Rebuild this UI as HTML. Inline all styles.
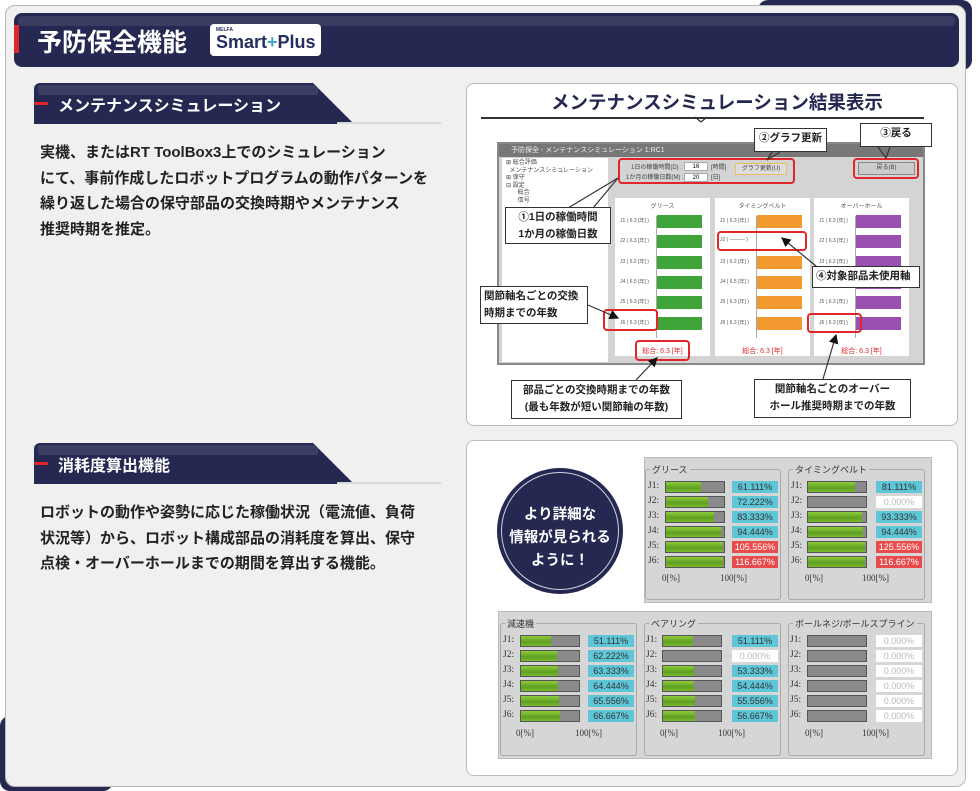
<!DOCTYPE html>
<html><head><meta charset="utf-8">
<style>
*{margin:0;padding:0;box-sizing:border-box}
body{width:980px;height:791px;background:#fff;position:relative;overflow:hidden;font-family:"Liberation Sans","Noto Sans CJK JP",sans-serif}
.a{position:absolute}
.nav{background:#252850}
.sh{position:absolute;left:34px;width:320px;height:41px;background:#252850;clip-path:polygon(0 0,279px 0,320px 41px,0 41px);border-radius:6px 0 0 0}
.sh .hl{position:absolute;left:4px;top:2px;width:280px;height:10px;background:#3a3d62}
.sh .rd{position:absolute;left:0;top:19px;width:14px;height:3px;background:#e0262b}
.sh .t{position:absolute;left:24px;top:9px;color:#fff;font-size:16px;font-weight:bold;white-space:nowrap}
.ul{position:absolute;left:337px;width:104px;height:2px;background:#d8d8d8}
.p{position:absolute;left:40px;font-size:15px;font-weight:bold;line-height:25.5px;color:#222;white-space:nowrap}
.box{position:absolute;background:#fff;border:1.5px solid #bbb;border-radius:8px}
.co{position:absolute;background:#fff;border:1.5px solid #333;font-size:10.5px;font-weight:bold;color:#222;line-height:17px;padding:1px 3px;white-space:nowrap;overflow:hidden}
.rb{position:absolute;border:2px solid #e0262b;border-radius:4px}
.ch{position:absolute;background:#fff;top:198px;width:95px;height:158px}
.ch .tt{position:absolute;top:3px;width:100%;text-align:center;font-size:6px;color:#555}
.ch .b{position:absolute;left:42px;width:45px;height:13px}
.ch .lb{position:absolute;left:5px;font-size:5px;color:#555;white-space:nowrap}
.ch .ax{position:absolute;left:41px;top:18px;width:1px;height:122px;background:#aaa}
.ch .tot{position:absolute;top:148px;width:100%;text-align:center;font-size:7px;color:#e0262b}
.gb{position:absolute;background:#e4e4e4;border:1px solid #bbb}
.sp{position:absolute;border:1px solid #aaa;border-radius:3px}
.sp .tl{position:absolute;top:-7px;left:4px;background:#d6d6d6;font-size:9px;color:#333;padding:0 2px;white-space:nowrap}
.j{position:absolute;font-size:9.5px;color:#333;font-family:"Liberation Serif",serif}
.bar{position:absolute;width:60px;height:12px;background:#8a8a8a;border:1px solid #555}
.bar i{position:absolute;left:0;top:0;bottom:0;background:linear-gradient(#8fcc3a,#5e9e23 60%,#7cbc2c)}
.v{position:absolute;width:46px;height:12px;font-size:9px;text-align:center;line-height:12px;color:#333}
.cy{background:#5ec6d6}.rdv{background:#e84b4b;color:#fff}.wt{background:#fff;color:#bbb}
.ax2{position:absolute;font-size:9px;color:#333;font-family:"Liberation Serif",serif}
</style></head><body>
<div class="a nav" style="left:758px;top:0;width:214px;height:70px;border-radius:10px"></div>
<div class="a nav" style="left:0;top:716px;width:113px;height:75px;border-radius:10px"></div>
<div class="a" style="left:5px;top:5px;width:961px;height:782px;background:#f0f0f0;border:1.5px solid #b8b8b8;border-radius:10px"></div>
<div class="a nav" style="left:14px;top:13px;width:945px;height:54px;border-radius:8px;overflow:hidden">
 <div class="a" style="left:4px;top:3px;width:937px;height:10px;background:#3a3d62;border-radius:4px"></div>
</div>
<div class="a" style="left:14px;top:25px;width:5px;height:28px;background:#e0262b"></div>
<div class="a" style="left:37px;top:23px;color:#fff;font-size:25px;font-weight:bold;white-space:nowrap">予防保全機能</div>
<div class="a" style="left:210px;top:24px;width:111px;height:32px;background:#fff;border-radius:4px">
 <div class="a" style="left:6px;top:3px;font-size:5px;color:#253060;font-weight:bold">MELFA</div>
 <div class="a" style="left:6px;top:8px;font-size:18px;color:#253060;font-weight:bold;white-space:nowrap">Smart<span style="color:#3aa8c8">+</span>Plus</div>
</div>
<div class="sh" style="top:83px"><div class="hl"></div><div class="rd"></div><div class="t">メンテナンスシミュレーション</div></div>
<div class="ul" style="top:122px"></div>
<div class="p" style="top:140px">実機、またはRT ToolBox3上でのシミュレーション<br>にて、事前作成したロボットプログラムの動作パターンを<br>繰り返した場合の保守部品の交換時期やメンテナンス<br>推奨時期を推定。</div>
<div class="sh" style="top:443px"><div class="hl"></div><div class="rd"></div><div class="t">消耗度算出機能</div></div>
<div class="ul" style="top:482px"></div>
<div class="p" style="top:500px">ロボットの動作や姿勢に応じた稼働状況（電流値、負荷<br>状況等）から、ロボット構成部品の消耗度を算出、保守<br>点検・オーバーホールまでの期間を算出する機能。</div>

<div class="box" style="left:466px;top:83px;width:492px;height:343px"></div>
<div class="a" style="left:551px;top:89px;font-size:18.5px;font-weight:bold;color:#252850;white-space:nowrap">メンテナンスシミュレーション結果表示</div>
<div class="a" style="left:481px;top:117px;width:443px;height:1.5px;background:#333"></div>
<div class="a" style="left:497px;top:142px;width:428px;height:223px;background:#d4d4d4;border:2px solid #888"></div>
<div class="a" style="left:499px;top:144px;width:424px;height:13px;background:#777;color:#eee;font-size:7px;line-height:13px;padding-left:12px;white-space:nowrap">予防保全 - メンテナンスシミュレーション 1:RC1</div>
<div class="a" style="left:502px;top:158px;width:106px;height:204px;background:#fff;font-size:6px;color:#444;line-height:7.5px;padding:2px 4px;white-space:nowrap">⊞ 総合評価<br>&nbsp;&nbsp;メンテナンスシミュレーション<br>⊞ 保守<br>⊟ 設定<br>&nbsp;&nbsp;&nbsp;&nbsp;&nbsp;&nbsp;&nbsp;総合<br>&nbsp;&nbsp;&nbsp;&nbsp;&nbsp;&nbsp;&nbsp;信号</div>
<div class="a" style="left:626px;top:163px;font-size:6px;color:#444;line-height:10px;white-space:nowrap;text-align:right;width:56px">1日の稼働時間(D) :<br>1か月の稼働日数(M) :</div>
<div class="a" style="left:684px;top:162px;width:24px;height:9px;background:#fff;border:1px solid #aaa;font-size:6px;text-align:center;line-height:8px">16</div>
<div class="a" style="left:684px;top:173px;width:24px;height:9px;background:#fff;border:1px solid #aaa;font-size:6px;text-align:center;line-height:8px">20</div>
<div class="a" style="left:711px;top:163px;font-size:6px;color:#444;line-height:10px">[時間]<br>[日]</div>
<div class="a" style="left:735px;top:163px;width:52px;height:12px;background:#ddd;border:1px solid #e8c060;font-size:6px;text-align:center;line-height:10px;color:#444">グラフ更新(U)</div>
<div class="a" style="left:858px;top:162px;width:57px;height:13px;background:#ccc;border:1px solid #888;font-size:6px;text-align:center;line-height:11px;color:#444">戻る(B)</div>
<div class="ch" style="left:615px"><div class="tt">グリース</div><div class="ax"></div>
 <div class="lb" style="top:19px">J1 ( 6.3 [年] )</div><div class="lb" style="top:39px">J2 ( 6.3 [年] )</div><div class="lb" style="top:60px">J3 ( 6.2 [年] )</div><div class="lb" style="top:80px">J4 ( 6.5 [年] )</div><div class="lb" style="top:100px">J5 ( 6.3 [年] )</div><div class="lb" style="top:121px">J6 ( 6.3 [年] )</div>
 <div class="b" style="top:17px;background:#3fa53a"></div><div class="b" style="top:37px;background:#3fa53a"></div><div class="b" style="top:58px;background:#3fa53a"></div><div class="b" style="top:78px;background:#3fa53a"></div><div class="b" style="top:98px;background:#3fa53a"></div><div class="b" style="top:119px;background:#3fa53a"></div>
 <div class="tot">総合: 6.3 [年]</div></div>
<div class="ch" style="left:715px"><div class="tt">タイミングベルト</div><div class="ax"></div>
 <div class="lb" style="top:19px">J1 ( 6.3 [年] )</div><div class="lb" style="top:39px">J2 ( ——— )</div><div class="lb" style="top:60px">J3 ( 6.2 [年] )</div><div class="lb" style="top:80px">J4 ( 6.5 [年] )</div><div class="lb" style="top:100px">J5 ( 6.3 [年] )</div><div class="lb" style="top:121px">J6 ( 6.3 [年] )</div>
 <div class="b" style="top:17px;background:#f29a30"></div><div class="b" style="top:58px;background:#f29a30"></div><div class="b" style="top:78px;background:#f29a30"></div><div class="b" style="top:98px;background:#f29a30"></div><div class="b" style="top:119px;background:#f29a30"></div>
 <div class="tot">総合: 6.3 [年]</div></div>
<div class="ch" style="left:814px"><div class="tt">オーバーホール</div><div class="ax"></div>
 <div class="lb" style="top:19px">J1 ( 6.3 [年] )</div><div class="lb" style="top:39px">J2 ( 6.3 [年] )</div><div class="lb" style="top:60px">J3 ( 6.2 [年] )</div><div class="lb" style="top:80px">J4 ( 6.5 [年] )</div><div class="lb" style="top:100px">J5 ( 6.3 [年] )</div><div class="lb" style="top:121px">J6 ( 6.3 [年] )</div>
 <div class="b" style="top:17px;background:#9a50b0"></div><div class="b" style="top:37px;background:#9a50b0"></div><div class="b" style="top:58px;background:#9a50b0"></div><div class="b" style="top:78px;background:#9a50b0"></div><div class="b" style="top:98px;background:#9a50b0"></div><div class="b" style="top:119px;background:#9a50b0"></div>
 <div class="tot">総合: 6.3 [年]</div></div>
<div class="rb" style="left:618px;top:158px;width:177px;height:26px"></div>
<div class="rb" style="left:853px;top:158px;width:66px;height:21px"></div>
<div class="rb" style="left:603px;top:309px;width:55px;height:22px"></div>
<div class="rb" style="left:717px;top:231px;width:90px;height:20px"></div>
<div class="rb" style="left:807px;top:313px;width:55px;height:20px"></div>
<div class="rb" style="left:635px;top:340px;width:55px;height:21px"></div>
<svg class="a" style="left:0;top:0" width="980" height="791">
<defs><marker id="m" markerWidth="8" markerHeight="8" refX="7" refY="4" orient="auto"><path d="M0,0 L8,4 L0,8z" fill="#111"/></marker></defs>
<g stroke="#333" stroke-width="1.2" fill="none">
<polyline points="568,208 618,178 593,208"/>
<polyline points="772,152 767,160 780,152"/>
<polyline points="878,147 886,158 890,147"/>
<line x1="588" y1="305" x2="618" y2="318" marker-end="url(#m)"/>
<line x1="816" y1="266" x2="782" y2="238" marker-end="url(#m)"/>
<line x1="636" y1="380" x2="657" y2="358" marker-end="url(#m)"/>
<line x1="823" y1="379" x2="836" y2="335" marker-end="url(#m)"/>
<polyline points="695,117 701,122 707,117" stroke="#333"/>
</g></svg>
<div class="co" style="left:754px;top:128px;width:73px;height:24px;text-align:center">②グラフ更新</div>
<div class="co" style="left:860px;top:123px;width:72px;height:24px;text-align:center">③戻る</div>
<div class="co" style="left:505px;top:207px;width:106px;height:37px;text-align:center">①1日の稼働時間<br>1か月の稼働日数</div>
<div class="co" style="left:480px;top:286px;width:108px;height:38px">関節軸名ごとの交換<br>時期までの年数</div>
<div class="co" style="left:812px;top:266px;width:108px;height:22px">④対象部品未使用軸</div>
<div class="co" style="left:511px;top:380px;width:171px;height:39px;text-align:center">部品ごとの交換時期までの年数<br>(最も年数が短い関節軸の年数)</div>
<div class="co" style="left:754px;top:379px;width:157px;height:39px;text-align:center">関節軸名ごとのオーバー<br>ホール推奨時期までの年数</div>

<div class="box" style="left:466px;top:440px;width:492px;height:336px"></div>
<div class="a" style="left:497px;top:468px;width:126px;height:126px;border-radius:50%;background:#252850"></div>
<div class="a" style="left:501px;top:472px;width:118px;height:118px;border-radius:50%;border:1px solid #cfd0dc"></div>
<div class="a" style="left:497px;top:504px;width:126px;text-align:center;color:#fff;font-size:14.5px;font-weight:bold;line-height:23px">より詳細な<br>情報が見られる<br>ように！</div>

<div class="gb" style="left:644px;top:457px;width:288px;height:146px;background:#d6d6d6"></div>
<div class="gb" style="left:498px;top:611px;width:434px;height:148px;background:#d6d6d6"></div>
<div class="sp" style="left:645px;top:469px;width:136px;height:131px"><div class="tl">グリース</div></div>
<div class="sp" style="left:788px;top:469px;width:137px;height:131px"><div class="tl">タイミングベルト</div></div>
<div class="sp" style="left:500px;top:623px;width:137px;height:133px"><div class="tl">減速機</div></div>
<div class="sp" style="left:644px;top:623px;width:137px;height:133px"><div class="tl">ベアリング</div></div>
<div class="sp" style="left:788px;top:623px;width:137px;height:133px"><div class="tl">ボールネジ/ボールスプライン</div></div>

<div class="j" style="left:648px;top:481px">J1:</div><div class="bar" style="left:665px;top:481px"><i style="width:61%"></i></div><div class="v cy" style="left:732px;top:481px">61.111%</div>
<div class="j" style="left:648px;top:496px">J2:</div><div class="bar" style="left:665px;top:496px"><i style="width:72%"></i></div><div class="v cy" style="left:732px;top:496px">72.222%</div>
<div class="j" style="left:648px;top:511px">J3:</div><div class="bar" style="left:665px;top:511px"><i style="width:83%"></i></div><div class="v cy" style="left:732px;top:511px">83.333%</div>
<div class="j" style="left:648px;top:526px">J4:</div><div class="bar" style="left:665px;top:526px"><i style="width:94%"></i></div><div class="v cy" style="left:732px;top:526px">94.444%</div>
<div class="j" style="left:648px;top:541px">J5:</div><div class="bar" style="left:665px;top:541px"><i style="width:98%"></i></div><div class="v rdv" style="left:732px;top:541px">105.556%</div>
<div class="j" style="left:648px;top:556px">J6:</div><div class="bar" style="left:665px;top:556px"><i style="width:98%"></i></div><div class="v rdv" style="left:732px;top:556px">116.667%</div>
<div class="ax2" style="left:662px;top:573px">0[%]</div><div class="ax2" style="left:720px;top:573px">100[%]</div>
<div class="j" style="left:791px;top:481px">J1:</div><div class="bar" style="left:807px;top:481px"><i style="width:81%"></i></div><div class="v cy" style="left:876px;top:481px">81.111%</div>
<div class="j" style="left:791px;top:496px">J2:</div><div class="bar" style="left:807px;top:496px"></div><div class="v wt" style="left:876px;top:496px">0.000%</div>
<div class="j" style="left:791px;top:511px">J3:</div><div class="bar" style="left:807px;top:511px"><i style="width:93%"></i></div><div class="v cy" style="left:876px;top:511px">93.333%</div>
<div class="j" style="left:791px;top:526px">J4:</div><div class="bar" style="left:807px;top:526px"><i style="width:94%"></i></div><div class="v cy" style="left:876px;top:526px">94.444%</div>
<div class="j" style="left:791px;top:541px">J5:</div><div class="bar" style="left:807px;top:541px"><i style="width:98%"></i></div><div class="v rdv" style="left:876px;top:541px">125.556%</div>
<div class="j" style="left:791px;top:556px">J6:</div><div class="bar" style="left:807px;top:556px"><i style="width:98%"></i></div><div class="v rdv" style="left:876px;top:556px">116.667%</div>
<div class="ax2" style="left:805px;top:573px">0[%]</div><div class="ax2" style="left:862px;top:573px">100[%]</div>
<div class="j" style="left:503px;top:635px">J1:</div><div class="bar" style="left:520px;top:635px"><i style="width:51%"></i></div><div class="v cy" style="left:588px;top:635px">51.111%</div>
<div class="j" style="left:503px;top:650px">J2:</div><div class="bar" style="left:520px;top:650px"><i style="width:62%"></i></div><div class="v cy" style="left:588px;top:650px">62.222%</div>
<div class="j" style="left:503px;top:665px">J3:</div><div class="bar" style="left:520px;top:665px"><i style="width:63%"></i></div><div class="v cy" style="left:588px;top:665px">63.333%</div>
<div class="j" style="left:503px;top:680px">J4:</div><div class="bar" style="left:520px;top:680px"><i style="width:64%"></i></div><div class="v cy" style="left:588px;top:680px">64.444%</div>
<div class="j" style="left:503px;top:695px">J5:</div><div class="bar" style="left:520px;top:695px"><i style="width:65%"></i></div><div class="v cy" style="left:588px;top:695px">65.556%</div>
<div class="j" style="left:503px;top:710px">J6:</div><div class="bar" style="left:520px;top:710px"><i style="width:67%"></i></div><div class="v cy" style="left:588px;top:710px">66.667%</div>
<div class="ax2" style="left:516px;top:728px">0[%]</div><div class="ax2" style="left:575px;top:728px">100[%]</div>
<div class="j" style="left:646px;top:635px">J1:</div><div class="bar" style="left:662px;top:635px"><i style="width:51%"></i></div><div class="v cy" style="left:732px;top:635px">51.111%</div>
<div class="j" style="left:646px;top:650px">J2:</div><div class="bar" style="left:662px;top:650px"></div><div class="v wt" style="left:732px;top:650px">0.000%</div>
<div class="j" style="left:646px;top:665px">J3:</div><div class="bar" style="left:662px;top:665px"><i style="width:53%"></i></div><div class="v cy" style="left:732px;top:665px">53.333%</div>
<div class="j" style="left:646px;top:680px">J4:</div><div class="bar" style="left:662px;top:680px"><i style="width:54%"></i></div><div class="v cy" style="left:732px;top:680px">54.444%</div>
<div class="j" style="left:646px;top:695px">J5:</div><div class="bar" style="left:662px;top:695px"><i style="width:55%"></i></div><div class="v cy" style="left:732px;top:695px">55.556%</div>
<div class="j" style="left:646px;top:710px">J6:</div><div class="bar" style="left:662px;top:710px"><i style="width:56%"></i></div><div class="v cy" style="left:732px;top:710px">56.667%</div>
<div class="ax2" style="left:660px;top:728px">0[%]</div><div class="ax2" style="left:718px;top:728px">100[%]</div>
<div class="j" style="left:790px;top:635px">J1:</div><div class="bar" style="left:807px;top:635px"></div><div class="v wt" style="left:876px;top:635px">0.000%</div>
<div class="j" style="left:790px;top:650px">J2:</div><div class="bar" style="left:807px;top:650px"></div><div class="v wt" style="left:876px;top:650px">0.000%</div>
<div class="j" style="left:790px;top:665px">J3:</div><div class="bar" style="left:807px;top:665px"></div><div class="v wt" style="left:876px;top:665px">0.000%</div>
<div class="j" style="left:790px;top:680px">J4:</div><div class="bar" style="left:807px;top:680px"></div><div class="v wt" style="left:876px;top:680px">0.000%</div>
<div class="j" style="left:790px;top:695px">J5:</div><div class="bar" style="left:807px;top:695px"></div><div class="v wt" style="left:876px;top:695px">0.000%</div>
<div class="j" style="left:790px;top:710px">J6:</div><div class="bar" style="left:807px;top:710px"></div><div class="v wt" style="left:876px;top:710px">0.000%</div>
<div class="ax2" style="left:805px;top:728px">0[%]</div><div class="ax2" style="left:862px;top:728px">100[%]</div>
</body></html>
